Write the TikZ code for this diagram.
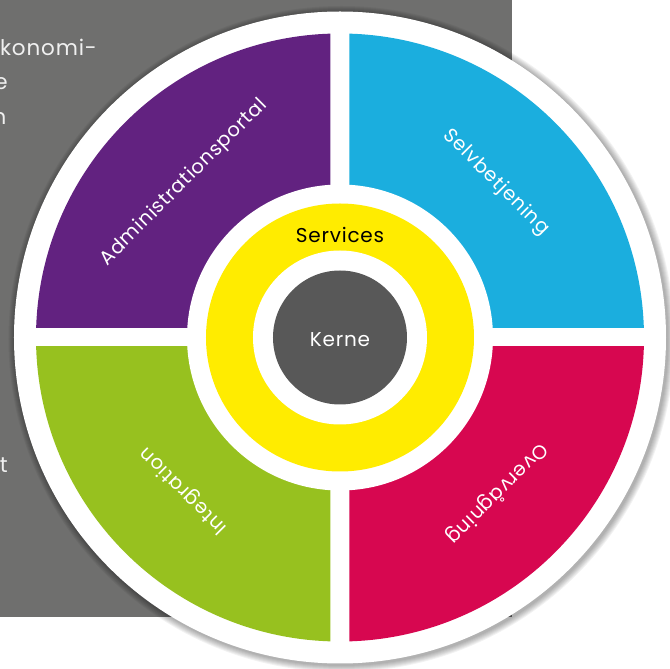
\documentclass[tikz,border=0pt]{standalone}
\usepackage{fontspec}
\setmainfont{Poppins}
\newfontfamily\wheelfont[LetterSpace=4]{Poppins}
\usetikzlibrary{positioning}
\definecolor{backdrop}{RGB}{111,111,110}
\definecolor{portal}{RGB}{98,34,128}
\definecolor{selv}{RGB}{27,174,222}
\definecolor{integ}{RGB}{151,193,31}
\definecolor{overv}{RGB}{215,7,80}
\definecolor{serv}{RGB}{255,236,0}
\definecolor{core}{RGB}{88,88,88}
\tikzset{
  quarter/.style={text=white, inner sep=0pt, font=\wheelfont\fontsize{19.5}{19.5}\selectfont},
  sidetext/.style={text=white!94!black, inner sep=0pt, anchor=base east, font=\wheelfont\fontsize{21.5}{21.5}\selectfont}
}

\begin{document}
\begin{tikzpicture}[x=1pt,y=1pt]
\useasboundingbox (-340,-331.5) rectangle (330,337.5);
\clip (-340,-331.5) rectangle (330,337.5);
% grey panel behind the wheel
\fill[backdrop] (-340,337.5) rectangle (172,-279.5);
\node[sidetext] (line1) at (-243,281.5) {konomi-};
\node[sidetext] (line2) at (-332,247.5) {e};
\node[sidetext] (line3) at (-333.5,212.5) {n};
\node[sidetext] (line4) at (-332,-135.5) {t};
% soft shadow
\foreach \r in {1,...,7}
  \fill[black, opacity=0.05] (1.5,-1.5) circle (326+\r);
\fill[white] (0,0) circle (326);
% the four quarters
\begin{scope}
  \clip (-400,9.5) rectangle (-9.5,400);
  \fill[portal] (0,0) circle (304);
\end{scope}
\begin{scope}
  \clip (9.5,9.5) rectangle (400,400);
  \fill[selv] (0,0) circle (304);
\end{scope}
\begin{scope}
  \clip (-400,-9.5) rectangle (-9.5,-400);
  \fill[integ] (0,0) circle (304);
\end{scope}
\begin{scope}
  \clip (9.5,-9.5) rectangle (400,-400);
  \fill[overv] (0,0) circle (304);
\end{scope}
% middle rings
\fill[white] (0,0) circle (153);
\fill[serv] (0,0) circle (134);
\fill[white] (0,0) circle (87);
\fill[core] (0,0) circle (67);
\node[text=white, font=\wheelfont\fontsize{20}{20}\selectfont] (kerne) at (0,-2) {Kerne};
\node[text=black, font=\wheelfont\fontsize{20}{20}\selectfont] (services) at (0,103) {Services};
% labels
\node[quarter, rotate=45] (admin) at (-156,155) {Administrationsportal};
\node[quarter, rotate=-45] (selvbet) at (156,155) {Selvbetjening};
\node[quarter, rotate=135] (integr) at (-156,-153) {Integration};
\node[quarter, rotate=225] (overvag) at (157,-156) {Overvågning};
\end{tikzpicture}
\end{document}
